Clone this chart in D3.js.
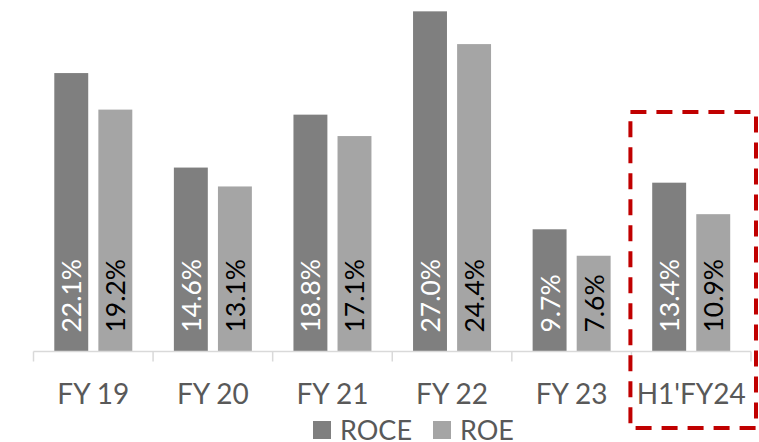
<!DOCTYPE html>
<html>
<head>
<meta charset="utf-8">
<script src="https://cdn.jsdelivr.net/npm/d3@7"></script>
<style>
  body { margin: 0; background: #fff; }
  svg text { font-family: Lato, "Open Sans", sans-serif; }
</style>
</head>
<body>
<div id="chart"></div>
<script>
// chart values
var categories = ["FY 19", "FY 20", "FY 21", "FY 22", "FY 23", "H1'FY24"];
var roce = [22.1, 14.6, 18.8, 27.0, 9.7, 13.4];
var roe = [19.2, 13.1, 17.1, 24.4, 7.6, 10.9];
var seriesNames = ["ROCE", "ROE"];
var highlighted = "H1'FY24";

var width = 759,
    height = 442,
    left = 33.5,
    right = 751,
    baseline = 351.5;

var colors = ["#7f7f7f", "#a5a5a5"];
var labelColors = ["#ffffff", "#000000"];

var svg = d3.select("#chart").append("svg")
    .attr("width", width)
    .attr("height", height);

var x = d3.scaleBand()
    .domain(categories)
    .range([left, right]);

var inner = d3.scaleBand()
    .domain(seriesNames)
    .range([x.bandwidth() / 2 - 39, x.bandwidth() / 2 + 39])
    .paddingInner(0.23);

var y = d3.scaleLinear()
    .domain([0, 27.9])
    .range([baseline, 0]);

var rows = categories.map(function(c, i) {
  return {cat: c, values: [roce[i], roe[i]]};
});

// bars
var group = svg.selectAll("g.cat")
    .data(rows)
    .enter().append("g")
    .attr("class", "cat")
    .attr("transform", function(d) { return "translate(" + x(d.cat) + ",0)"; });

var bar = group.selectAll("g.bar")
    .data(function(d) {
      return d.values.map(function(v, j) { return {name: seriesNames[j], value: v, j: j}; });
    })
    .enter().append("g")
    .attr("class", "bar");

bar.append("rect")
    .attr("x", function(d) { return inner(d.name); })
    .attr("y", function(d) { return y(d.value); })
    .attr("width", inner.bandwidth())
    .attr("height", function(d) { return baseline - y(d.value); })
    .attr("fill", function(d) { return colors[d.j]; });

// rotated value labels
bar.append("text")
    .attr("transform", function(d) {
      return "translate(" + (inner(d.name) + inner.bandwidth() / 2) + "," + (baseline - 19) + ") rotate(-90)";
    })
    .attr("dominant-baseline", "central")
    .attr("font-size", "26.5px")
    .attr("fill", function(d) { return labelColors[d.j]; })
    .text(function(d) { return d.value.toFixed(1) + "%"; });

// x axis
var xAxis = d3.axisBottom(x)
    .tickSize(0)
    .tickFormat(function(d) { return d; });

var axisG = svg.append("g")
    .attr("transform", "translate(0," + baseline + ")")
    .call(xAxis);
axisG.select(".domain").remove();
axisG.selectAll("text")
    .attr("y", 52)
    .attr("dy", 0)
    .attr("font-size", "28px")
    .attr("font-family", "Lato, sans-serif")
    .attr("fill", "#595959");

axisG.append("line")
    .attr("x1", left).attr("x2", right)
    .attr("stroke", "#d9d9d9").attr("stroke-width", 1.5);

var bounds = categories.map(function(c) { return x(c); }).concat([right]);
axisG.selectAll("line.tk")
    .data(bounds)
    .enter().append("line")
    .attr("class", "tk")
    .attr("x1", function(d) { return d; })
    .attr("x2", function(d) { return d; })
    .attr("y1", 0).attr("y2", 10)
    .attr("stroke", "#d9d9d9").attr("stroke-width", 1.5);

// dashed highlight box
svg.append("rect")
    .attr("x", x(highlighted) - 1)
    .attr("y", 112)
    .attr("width", x.bandwidth() + 6)
    .attr("height", 316)
    .attr("fill", "none")
    .attr("stroke", "#c00000")
    .attr("stroke-width", 4)
    .attr("stroke-dasharray", "16,10");

// legend
var legendX = [313, 433];
var legend = svg.selectAll("g.legend")
    .data(seriesNames)
    .enter().append("g")
    .attr("class", "legend")
    .attr("transform", function(d, i) { return "translate(" + legendX[i] + ",421)"; });

legend.append("rect")
    .attr("width", 18).attr("height", 18)
    .attr("fill", function(d, i) { return colors[i]; });

legend.append("text")
    .attr("x", 27)
    .attr("y", 19)
    .attr("font-size", "27px")
    .attr("fill", "#595959")
    .text(function(d) { return d; });
</script>
</body>
</html>
